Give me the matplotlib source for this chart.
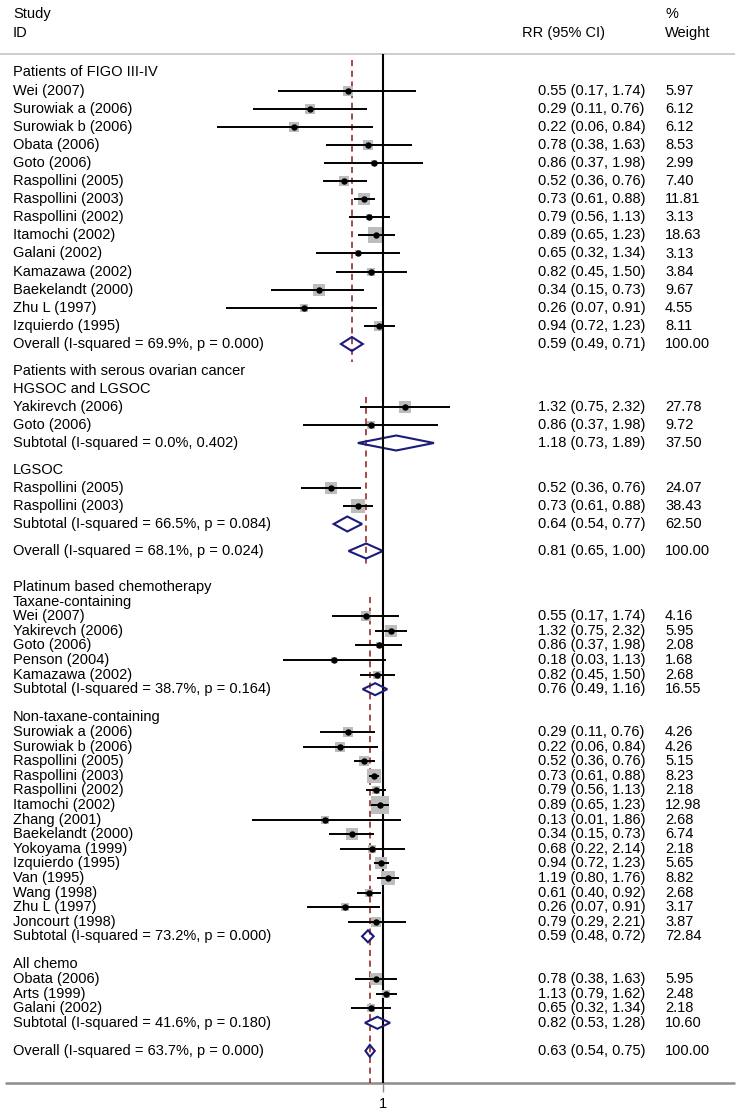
import numpy as np
import matplotlib.pyplot as plt
from matplotlib.patches import Polygon

plt.rcParams['font.family'] = ['Liberation Sans', 'DejaVu Sans']

# ---------------- data ----------------
# Patients of FIGO III-IV
figo_names = ["Wei (2007)", "Surowiak a (2006)", "Surowiak b (2006)", "Obata (2006)",
              "Goto (2006)", "Raspollini (2005)", "Raspollini (2003)", "Raspollini (2002)",
              "Itamochi (2002)", "Galani (2002)", "Kamazawa (2002)", "Baekelandt (2000)",
              "Zhu L (1997)", "Izquierdo (1995)"]
figo_rr = [0.55, 0.29, 0.22, 0.78, 0.86, 0.52, 0.73, 0.79, 0.89, 0.65, 0.82, 0.34, 0.26, 0.94]
figo_lo = [0.17, 0.11, 0.06, 0.38, 0.37, 0.36, 0.61, 0.56, 0.65, 0.32, 0.45, 0.15, 0.07, 0.72]
figo_hi = [1.74, 0.76, 0.84, 1.63, 1.98, 0.76, 0.88, 1.13, 1.23, 1.34, 1.50, 0.73, 0.91, 1.23]
figo_wt = [5.97, 6.12, 6.12, 8.53, 2.99, 7.40, 11.81, 3.13, 18.63, 3.13, 3.84, 9.67, 4.55, 8.11]
figo_overall = ["Overall (I-squared = 69.9%, p = 0.000)", 0.59, 0.49, 0.71, 100.00]

# Patients with serous ovarian cancer
hg_names = ["Yakirevch (2006)", "Goto (2006)"]
hg_rr = [1.32, 0.86]
hg_lo = [0.75, 0.37]
hg_hi = [2.32, 1.98]
hg_wt = [27.78, 9.72]
hg_sub = ["Subtotal (I-squared = 0.0%, 0.402)", 1.18, 0.73, 1.89, 37.50]

lg_names = ["Raspollini (2005)", "Raspollini (2003)"]
lg_rr = [0.52, 0.73]
lg_lo = [0.36, 0.61]
lg_hi = [0.76, 0.88]
lg_wt = [24.07, 38.43]
lg_sub = ["Subtotal (I-squared = 66.5%, p = 0.084)", 0.64, 0.54, 0.77, 62.50]
serous_overall = ["Overall (I-squared = 68.1%, p = 0.024)", 0.81, 0.65, 1.00, 100.00]

# Platinum based chemotherapy
tax_names = ["Wei (2007)", "Yakirevch (2006)", "Goto (2006)", "Penson (2004)", "Kamazawa (2002)"]
tax_rr = [0.55, 1.32, 0.86, 0.18, 0.82]
tax_lo = [0.17, 0.75, 0.37, 0.03, 0.45]
tax_hi = [1.74, 2.32, 1.98, 1.13, 1.50]
tax_wt = [4.16, 5.95, 2.08, 1.68, 2.68]
tax_sub = ["Subtotal (I-squared = 38.7%, p = 0.164)", 0.76, 0.49, 1.16, 16.55]

ntax_names = ["Surowiak a (2006)", "Surowiak b (2006)", "Raspollini (2005)", "Raspollini (2003)",
              "Raspollini (2002)", "Itamochi (2002)", "Zhang (2001)", "Baekelandt (2000)",
              "Yokoyama (1999)", "Izquierdo (1995)", "Van (1995)", "Wang (1998)",
              "Zhu L (1997)", "Joncourt (1998)"]
ntax_rr = [0.29, 0.22, 0.52, 0.73, 0.79, 0.89, 0.13, 0.34, 0.68, 0.94, 1.19, 0.61, 0.26, 0.79]
ntax_lo = [0.11, 0.06, 0.36, 0.61, 0.56, 0.65, 0.01, 0.15, 0.22, 0.72, 0.80, 0.40, 0.07, 0.29]
ntax_hi = [0.76, 0.84, 0.76, 0.88, 1.13, 1.23, 1.86, 0.73, 2.14, 1.23, 1.76, 0.92, 0.91, 2.21]
ntax_wt = [4.26, 4.26, 5.15, 8.23, 2.18, 12.98, 2.68, 6.74, 2.18, 5.65, 8.82, 2.68, 3.17, 3.87]
ntax_sub = ["Subtotal (I-squared = 73.2%, p = 0.000)", 0.59, 0.48, 0.72, 72.84]

allc_names = ["Obata (2006)", "Arts (1999)", "Galani (2002)"]
allc_rr = [0.78, 1.13, 0.65]
allc_lo = [0.38, 0.79, 0.32]
allc_hi = [1.63, 1.62, 1.34]
allc_wt = [5.95, 2.48, 2.18]
allc_sub = ["Subtotal (I-squared = 41.6%, p = 0.180)", 0.82, 0.53, 1.28, 10.60]
plat_overall = ["Overall (I-squared = 63.7%, p = 0.000)", 0.63, 0.54, 0.75, 100.00]

# ---------------- layout ----------------
W, H = 739, 1114
NULL_X = 383
X_LABEL, X_RR_HEAD, X_RR, X_WT = 13, 522, 538, 665
FS = 10.5
NAVY = '#1b1b7a'
RED = '#8b1a1a'
BOX = '#bdbdbd'


def studies(names, rr, lo, hi, wt):
    return [('study', n, r, l, h, w) for n, r, l, h, w in zip(names, rr, lo, hi, wt)]


def layout(rows, y0, step, gap):
    ys, y, prev = [], y0, None
    for row in rows:
        if prev is not None:
            y += step
            if prev == 'sub':
                y += gap
        ys.append(y)
        prev = row[0]
    return ys


sections = [
    dict(rows=[('head', "Patients of FIGO III-IV")]
         + studies(figo_names, figo_rr, figo_lo, figo_hi, figo_wt)
         + [('overall', *figo_overall)],
         y0=72.5, step=18.1, gap=0, scale=59, k=3.7, dh=7, dash=(60, 362)),
    dict(rows=[('head', "Patients with serous ovarian cancer"), ('head', "HGSOC and LGSOC")]
         + studies(hg_names, hg_rr, hg_lo, hg_hi, hg_wt) + [('sub', *hg_sub)]
         + [('head', "LGSOC")]
         + studies(lg_names, lg_rr, lg_lo, lg_hi, lg_wt) + [('sub', *lg_sub)]
         + [('overall', *serous_overall)],
         y0=371, step=18, gap=9, scale=80, k=2.26, dh=7.5, dash=(397, 566)),
    dict(rows=[('head', "Platinum based chemotherapy"), ('head', "Taxane-containing")]
         + studies(tax_names, tax_rr, tax_lo, tax_hi, tax_wt) + [('sub', *tax_sub)]
         + [('head', "Non-taxane-containing")]
         + studies(ntax_names, ntax_rr, ntax_lo, ntax_hi, ntax_wt) + [('sub', *ntax_sub)]
         + [('head', "All chemo")]
         + studies(allc_names, allc_rr, allc_lo, allc_hi, allc_wt) + [('sub', *allc_sub)]
         + [('overall', *plat_overall)],
         y0=587, step=14.6, gap=13.5, scale=28.5, k=4.8, dh=6, dash=(597, 1083)),
]

fig = plt.figure(figsize=(W / 100, H / 100), dpi=100)
bg = fig.add_axes([0, 0, 1, 1])
bg.set_xlim(0, W)
bg.set_ylim(H, 0)
bg.axis('off')

# header
bg.text(X_LABEL, 14, "Study", fontsize=FS, va='center')
bg.text(X_LABEL, 33, "ID", fontsize=FS, va='center')
bg.text(X_RR_HEAD, 33, "RR (95% CI)", fontsize=FS, va='center')
bg.text(X_WT, 14, "%", fontsize=FS, va='center')
bg.text(X_WT, 33, "Weight", fontsize=FS, va='center')
bg.hlines(54, 0, 735, color='#c8c8c8', lw=1.3)
bg.hlines(1083, 5, 735, color='#8c8c8c', lw=1.8)

for sec in sections:
    ax = fig.add_axes([0, 0, 1, 1])
    ax.set_xscale('log')
    ax.set_xlim(np.exp(-NULL_X / sec['scale']), np.exp((W - NULL_X) / sec['scale']))
    ax.set_ylim(H, 0)
    ax.axis('off')
    ax.patch.set_alpha(0)
    sec['ax'] = ax

    ys = layout(sec['rows'], sec['y0'], sec['step'], sec['gap'])
    overall_rr = sec['rows'][-1][2]
    ax.vlines(overall_rr, sec['dash'][0], sec['dash'][1], color=RED, lw=1.1,
              linestyles=(0, (4, 3)), zorder=1)

    for row, y in zip(sec['rows'], ys):
        kind, label = row[0], row[1]
        bg.text(X_LABEL, y, label, fontsize=FS, va='center')
        if kind == 'head':
            continue
        rr, lo, hi, wt = row[2:]
        bg.text(X_RR, y, f"{rr:.2f} ({lo:.2f}, {hi:.2f})", fontsize=FS, va='center')
        bg.text(X_WT, y, f"{wt:.2f}", fontsize=FS, va='center')
        if kind == 'study':
            side = sec['k'] * np.sqrt(wt) * 0.72
            ax.scatter([rr], [y], marker='s', s=side ** 2, color=BOX, linewidths=0, zorder=2)
            ax.hlines(y, lo, hi, color='black', lw=1.4, zorder=3)
            ax.plot([rr], [y], marker='o', ms=3.6, color='black', zorder=4)
        else:
            dh = sec['dh']
            ax.add_patch(Polygon([(lo, y), (rr, y - dh), (hi, y), (rr, y + dh)],
                                 closed=True, fill=False, edgecolor=NAVY, lw=1.5, zorder=3))

# null line, tick and tick label
axb = sections[-1]['ax']
axb.vlines(1, 54, 1083, color='black', lw=1.5, zorder=1.5)
axb.vlines(1, 1083, 1092, color='#8c8c8c', lw=1.0)
axb.text(1, 1104, "1", fontsize=FS, ha='center', va='center')

fig.savefig("out.png", dpi=100)
